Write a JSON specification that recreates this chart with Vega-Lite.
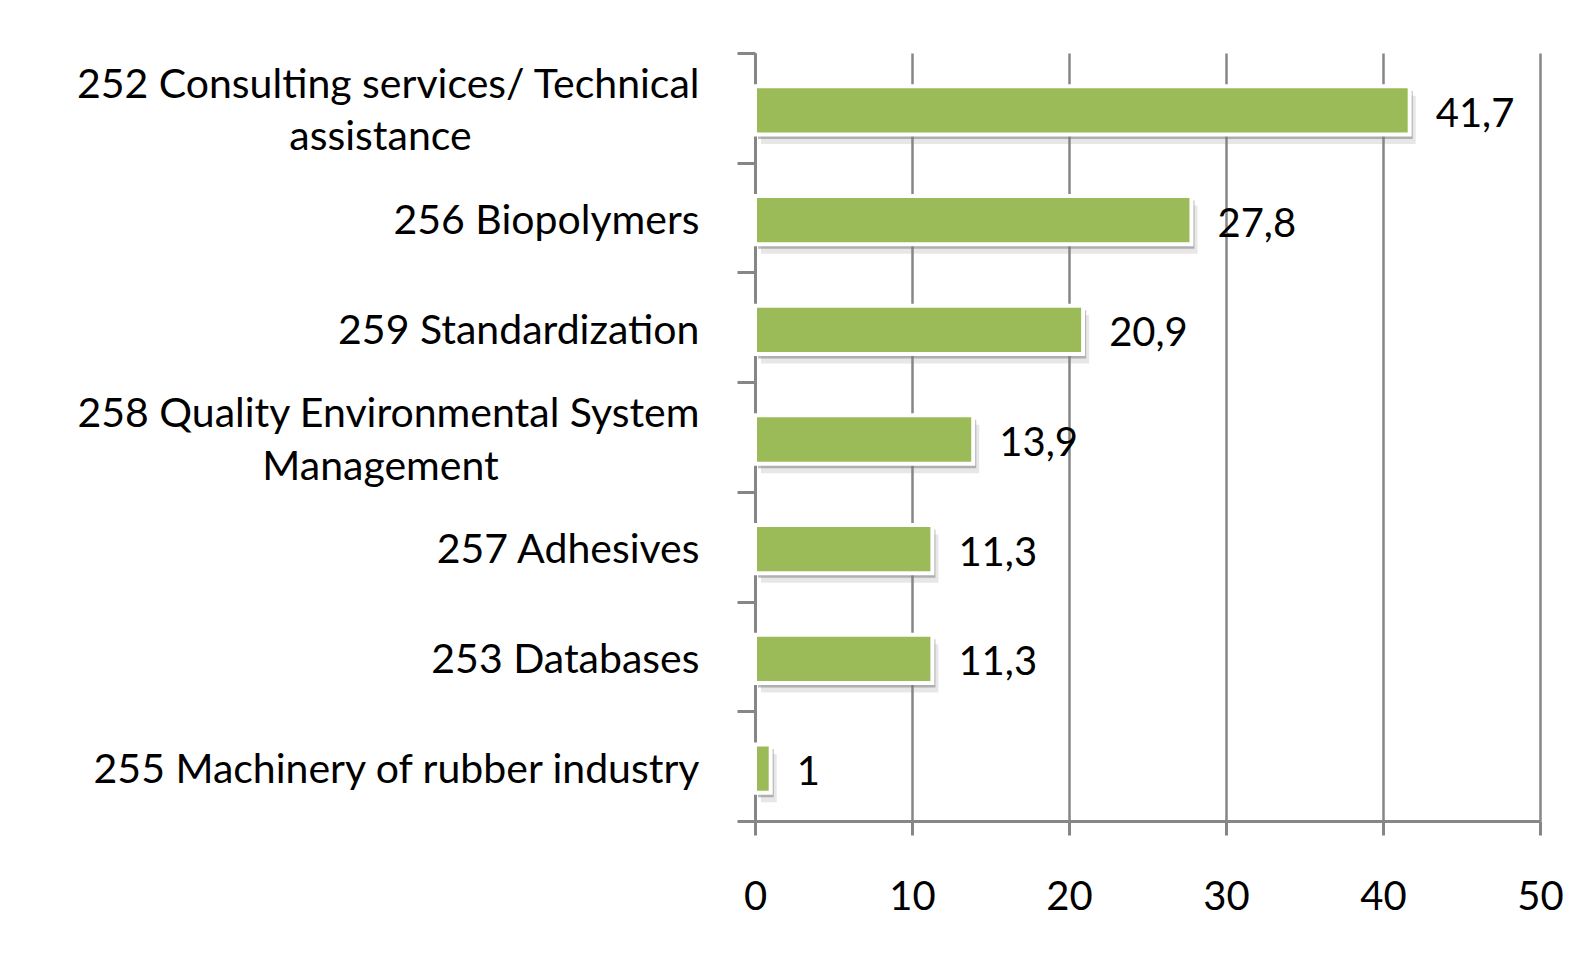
{
  "$schema": "https://vega.github.io/schema/vega-lite/v6.json",
  "width": 785,
  "height": 768,
  "autosize": {"type": "none"},
  "padding": {"left": 755, "top": 53, "right": 53, "bottom": 144},
  "background": "white",
  "config": {
    "view": {"stroke": null},
    "locale": {"number": {"decimal": ",", "thousands": ".", "grouping": [3], "currency": ["", " €"]}},
    "font": "Lato"
  },
  "data": {
    "values": [
      {"category": "252 Consulting services/ Technical assistance", "value": 41.7},
      {"category": "256 Biopolymers", "value": 27.8},
      {"category": "259 Standardization", "value": 20.9},
      {"category": "258 Quality Environmental System Management", "value": 13.9},
      {"category": "257 Adhesives", "value": 11.3},
      {"category": "253 Databases", "value": 11.3},
      {"category": "255 Machinery of rubber industry", "value": 1}
    ]
  },
  "resolve": {"axis": {"y": "independent"}},
  "layer": [
    {
      "mark": {"type": "bar", "color": "#888888", "opacity": 0.2, "xOffset": 6, "yOffset": 12, "height": {"band": 0.44}},
      "encoding": {
        "y": {
          "field": "category",
          "type": "nominal",
          "sort": null,
          "title": null,
          "scale": {"paddingInner": 0, "paddingOuter": 0},
          "axis": {
            "orient": "left",
            "tickBand": "extent",
            "tickSize": 18,
            "tickWidth": 3,
            "tickColor": "#868686",
            "domainColor": "#868686",
            "domainWidth": 3,
            "labelFont": "Lato",
            "labelFontSize": 41,
            "labelColor": "#000000",
            "labelLimit": 1000,
            "labelLineHeight": 26.5,
            "labelOffset": -22.5,
            "labelAlign": "right",
            "labelBaseline": "middle",
            "labelPadding": 38,
            "labelExpr": "datum.value == '252 Consulting services/ Technical assistance' ? '252 Consulting services/ Technical' : datum.value == '258 Quality Environmental System Management' ? '258 Quality Environmental System' : ['', datum.value]",
            "grid": false
          }
        },
        "x": {
          "field": "value",
          "type": "quantitative",
          "scale": {"domain": [0, 50], "nice": false},
          "title": null,
          "axis": {
            "values": [0, 10, 20, 30, 40, 50],
            "grid": true,
            "gridColor": "#868686",
            "gridWidth": 2.5,
            "gridOpacity": 1,
            "tickSize": 14,
            "tickWidth": 3,
            "tickColor": "#868686",
            "domainColor": "#868686",
            "domainWidth": 3,
            "labelFont": "Lato",
            "labelFontSize": 40,
            "labelColor": "#000000",
            "labelPadding": 42,
            "labelFlush": false,
            "format": "d"
          }
        }
      }
    },
    {
      "mark": {"type": "bar", "color": "#777777", "opacity": 0.5, "xOffset": 3, "yOffset": 7, "height": {"band": 0.44}},
      "encoding": {
        "y": {"field": "category", "type": "nominal", "sort": null, "axis": null},
        "x": {"field": "value", "type": "quantitative"}
      }
    },
    {
      "mark": {"type": "bar", "color": "#9BBB59", "stroke": "white", "strokeWidth": 4, "yOffset": 2.5, "height": {"band": 0.44}},
      "encoding": {
        "y": {
          "field": "category",
          "type": "nominal",
          "sort": null,
          "title": null,
          "axis": {
            "orient": "left",
            "ticks": false,
            "domain": false,
            "grid": false,
            "labelFont": "Lato",
            "labelFontSize": 41,
            "labelColor": "#000000",
            "labelLimit": 1000,
            "labelOffset": 30.5,
            "labelAlign": "center",
            "labelBaseline": "middle",
            "labelPadding": 375,
            "labelExpr": "datum.value == '252 Consulting services/ Technical assistance' ? 'assistance' : datum.value == '258 Quality Environmental System Management' ? 'Management' : ''"
          }
        },
        "x": {"field": "value", "type": "quantitative"}
      }
    },
    {
      "mark": {"type": "text", "align": "left", "baseline": "middle", "dx": 26, "dy": 7, "font": "Lato", "fontSize": 40, "color": "#000000"},
      "encoding": {
        "y": {"field": "category", "type": "nominal", "sort": null, "axis": null},
        "x": {"field": "value", "type": "quantitative"},
        "text": {"field": "value", "type": "quantitative", "format": ".1~f"}
      }
    }
  ]
}
